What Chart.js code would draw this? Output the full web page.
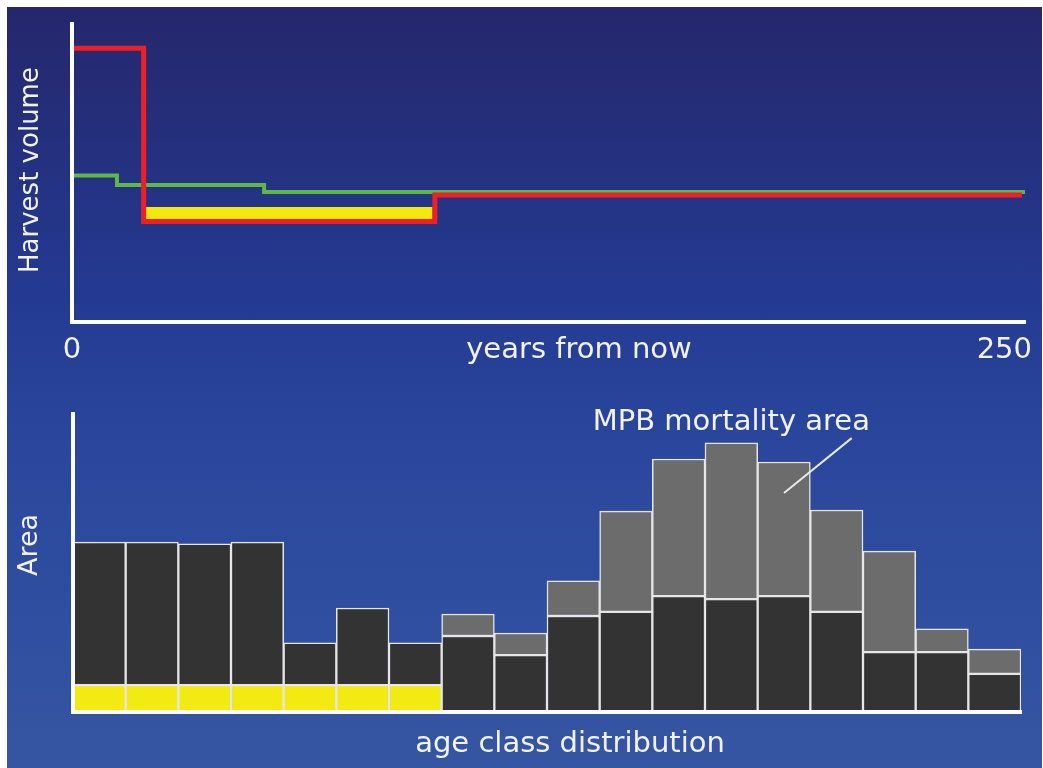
<!DOCTYPE html>
<html>
<head>
<meta charset="utf-8">
<script src="https://cdn.jsdelivr.net/npm/chart.js@4.4.1/dist/chart.umd.min.js"></script>
<style>
body { margin: 0; background: #fff; width: 1043px; height: 768px; overflow: hidden; position: relative; }
#bg { position: absolute; left: 7px; top: 7px; width: 1035px; height: 761px;
      background: linear-gradient(to bottom, #25276b 0%, #243a92 38%, #2a479d 58%, #3655a2 100%); }
canvas { position: absolute; left: 0; }
#harvest { top: 0; }
#ages { top: 380px; }
</style>
</head>
<body>
<div id="bg"></div>
<canvas id="harvest" width="1043" height="380"></canvas>
<canvas id="ages" width="1043" height="388"></canvas>
<script>
// top: harvest volume, step levels (x = years from now, start of each level)
var yearsRed = [0, 18.8, 95.2, 249.2];
var harvestRed = [91.9, 33.7, 42.6, 42.6];
var yearsGreen = [0, 11.8, 50.4, 250];
var harvestGreen = [49.2, 46.0, 43.6, 43.6];
var yearsYellow = [19.4, 94.6];
var harvestYellow = [36.6, 36.6];
var yearTicks = [0, 250];

// bottom: age class distribution (stacked area)
var ageClasses = ["1","2","3","4","5","6","7","8","9","10","11","12","13","14","15","16","17","18"];
var areaYellow = [9.0, 9.0, 9.0, 9.0, 9.0, 9.0, 9.0, null, null, null, null, null, null, null, null, null, null, null];
var areaDark = [48.0, 48.0, 47.4, 48.0, 14.2, 25.9, 14.2, 25.5, 19.1, 32.2, 33.6, 38.9, 37.9, 38.9, 33.6, 20.1, 20.1, 12.8];
var areaMpb = [null, null, null, null, null, null, null, 7.4, 7.4, 11.8, 33.8, 46.0, 52.4, 45.0, 34.2, 33.9, 7.8, 8.3];

function pts(xs, ys) {
    var out = [];
    for (var i = 0; i < xs.length; i++) out.push({x: xs[i], y: ys[i]});
    return out;
}

var textColor = '#f2f2f2';
var font = '"DejaVu Sans", Verdana, sans-serif';

var axisOpts = function (min, max) {
    return {
        min: min, max: max,
        grid: {display: false, drawTicks: false},
        ticks: {display: false},
        border: {display: true, color: '#ffffff', width: 4, z: 1}
    };
};

new Chart("harvest", {
    type: "line",
    data: {
        datasets: [
            { data: pts(yearsRed, harvestRed), borderColor: "#ee1f26", borderWidth: 5, stepped: true, clip: false },
            { data: pts(yearsYellow, harvestYellow), borderColor: "#f3e90e", borderWidth: 12, borderCapStyle: 'butt', clip: false },
            { data: pts(yearsGreen, harvestGreen), borderColor: "#5fb845", borderWidth: 4, stepped: true, clip: false }
        ]
    },
    options: {
        responsive: false,
        animation: false,
        layout: {padding: {left: 72, right: 18, top: 24, bottom: 58}},
        elements: {point: {radius: 0}, line: {tension: 0, borderJoinStyle: 'miter'}},
        plugins: {legend: {display: false}, tooltip: {enabled: false}},
        scales: {
            x: Object.assign({type: 'linear'}, axisOpts(0, 250)),
            y: axisOpts(0, 100)
        }
    },
    plugins: [{
        id: 'harvestText',
        afterDraw: function (chart) {
            var ctx = chart.ctx, x = chart.scales.x, y = chart.scales.y;
            ctx.save();
            ctx.fillStyle = textColor;
            ctx.font = '29px ' + font;
            ctx.textAlign = 'center';
            ctx.fillText(String(yearTicks[0]), x.getPixelForValue(yearTicks[0]), 358);
            ctx.textAlign = 'right';
            ctx.fillText(String(yearTicks[1]), x.getPixelForValue(yearTicks[1]) + 7, 358);
            ctx.textAlign = 'center';
            ctx.fillText('years from now', x.getPixelForValue(133), 358);
            ctx.translate(38, (y.top + y.bottom) / 2 - 3);
            ctx.rotate(-Math.PI / 2);
            ctx.font = '26px ' + font;
            ctx.fillText('Harvest volume', 0, 0);
            ctx.restore();
        }
    }]
});

var barStyle = {borderColor: '#e6e6e6', borderWidth: 1.5, borderSkipped: false, barPercentage: 1, categoryPercentage: 1};

new Chart("ages", {
    type: "bar",
    data: {
        labels: ageClasses,
        datasets: [
            Object.assign({data: areaYellow, backgroundColor: '#f2ea10'}, barStyle),
            Object.assign({data: areaDark, backgroundColor: '#333333'}, barStyle),
            Object.assign({data: areaMpb, backgroundColor: '#6d6c6c'}, barStyle)
        ]
    },
    options: {
        responsive: false,
        animation: false,
        layout: {padding: {left: 73, right: 22, top: 34, bottom: 56}},
        plugins: {legend: {display: false}, tooltip: {enabled: false}},
        scales: {
            x: Object.assign({stacked: true}, axisOpts()),
            y: Object.assign({stacked: true}, axisOpts(0, 100))
        }
    },
    plugins: [{
        id: 'agesText',
        afterDraw: function (chart) {
            var ctx = chart.ctx, x = chart.scales.x, y = chart.scales.y;
            ctx.save();
            // MPB pointer
            ctx.strokeStyle = '#e8e8e8';
            ctx.lineWidth = 2;
            ctx.beginPath();
            ctx.moveTo(x.getPixelForValue(14) + 15, y.getPixelForValue(91.9));
            ctx.lineTo(x.getPixelForValue(13), y.getPixelForValue(73.5));
            ctx.stroke();

            ctx.fillStyle = textColor;
            ctx.font = '29px ' + font;
            ctx.textAlign = 'center';
            ctx.fillText('MPB mortality area', x.getPixelForValue(12), 50);
            ctx.fillText('age class distribution', 570, 372);
            ctx.translate(37, 165);
            ctx.rotate(-Math.PI / 2);
            ctx.font = '27px ' + font;
            ctx.fillText('Area', 0, 0);
            ctx.restore();
        }
    }]
});
</script>
</body>
</html>
